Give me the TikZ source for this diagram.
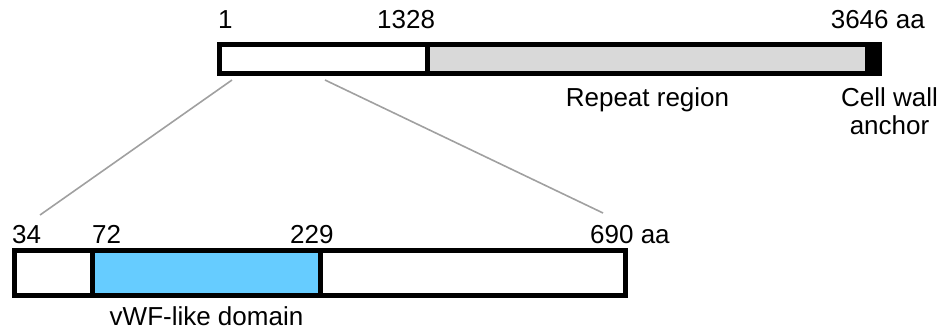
\documentclass[tikz,border=0pt]{standalone}
\usepackage{fontspec}
\setmainfont{Liberation Sans}
\definecolor{segblue}{RGB}{102,204,255}
\definecolor{seggray}{RGB}{217,217,217}
\definecolor{linkgray}{RGB}{160,160,160}
\tikzset{
  seg/.style={draw=black, line width=5pt, inner sep=0pt, outer sep=0pt, anchor=north west},
  lbl/.style={font=\fontsize{26}{30}\selectfont, inner sep=0pt},
  link/.style={draw=linkgray, line width=1.6pt},
}
\begin{document}
\begin{tikzpicture}[x=1pt,y=-1pt]
\useasboundingbox (0,0) rectangle (942,333);
% top bar
\node[seg, fill=white, minimum width=208pt, minimum height=29pt] (tA) at (219.5,44.5) {};
\node[seg, fill=seggray, minimum width=452pt, minimum height=29pt] (tB) at (427.5,44.5) {};
\node[seg, fill=black, minimum width=12.5pt, minimum height=29pt] (tC) at (867,44.5) {};
% bottom bar
\node[seg, fill=white, minimum width=78pt, minimum height=45pt] (bA) at (14.5,250.5) {};
\node[seg, fill=segblue, minimum width=228pt, minimum height=45pt] (bB) at (92.5,250.5) {};
\node[seg, fill=white, minimum width=305pt, minimum height=45pt] (bC) at (320.5,250.5) {};
% zoom lines
\coordinate (z1) at (232,80);
\coordinate (z2) at (325,80);
\coordinate (z3) at (40,215);
\coordinate (z4) at (603,213);
\draw[link] (z1) -- (z3);
\draw[link] (z2) -- (z4);
% labels top
\node[lbl, anchor=base west] (l1) at (218,28) {1};
\node[lbl, anchor=base west] (l1328) at (377,28) {1328};
\node[lbl, anchor=base east] (l3646) at (925,28) {3646 aa};
\node[lbl, anchor=base] (lrep) at (647.5,106) {Repeat region};
\node[lbl, anchor=base] (lcw) at (889.5,106) {Cell wall};
\node[lbl, anchor=base] (lanc) at (889.5,134) {anchor};
% labels bottom
\node[lbl, anchor=base west] (l34) at (12,243) {34};
\node[lbl, anchor=base west] (l72) at (92,243) {72};
\node[lbl, anchor=base west] (l229) at (290,243) {229};
\node[lbl, anchor=base west] (l690) at (590,243) {690 aa};
\node[lbl, anchor=base] (lvwf) at (206.5,325) {vWF-like domain};
\end{tikzpicture}
\end{document}
